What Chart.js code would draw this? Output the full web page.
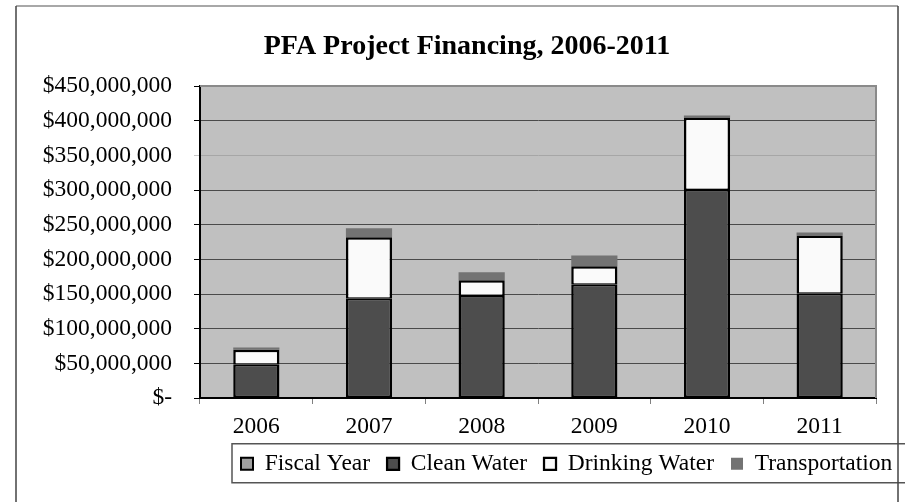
<!DOCTYPE html>
<html>
<head>
<meta charset="utf-8">
<script src="https://cdn.jsdelivr.net/npm/chart.js@4/dist/chart.umd.min.js"></script>
<style>
  html, body { margin: 0; padding: 0; background: #fff; }
  #wrap { width: 905px; height: 502px; position: relative; }
</style>
</head>
<body>
<div id="wrap"><canvas id="pfaChart"></canvas></div>
<script>
// values (dollars)
const years = ['2006', '2007', '2008', '2009', '2010', '2011'];
const fiscalYear = [2006, 2007, 2008, 2009, 2010, 2011];
const cleanWater = [48000000, 143000000, 147000000, 163500000, 300000000, 150500000];
const drinkingWater = [21500000, 89000000, 23000000, 26500000, 104500000, 84000000];
const transportation = [3500000, 13000000, 11500000, 15500000, 3000000, 4300000];
const yTicks = [0, 50000000, 100000000, 150000000, 200000000, 250000000, 300000000, 350000000, 400000000, 450000000];

const serif = "'Liberation Serif', 'Times New Roman', serif";

function money(v) {
    if (v === 0) return '$-';
    return '$' + v.toLocaleString('en-US');
}

// grey plot area + white page
const plotBg = {
    id: 'plotBg',
    beforeDraw(chart) {
        const { ctx, chartArea: a } = chart;
        ctx.save();
        ctx.fillStyle = '#ffffff';
        ctx.fillRect(0, 0, chart.width, chart.height);
        ctx.fillStyle = '#c0c0c0';
        ctx.fillRect(a.left, a.top, a.width, a.height);
        ctx.restore();
    }
};

// title centred a bit right, legend left-aligned under the plot (Excel style)
const placeBoxes = {
    id: 'placeBoxes',
    afterLayout(chart) {
        const t = chart.titleBlock;
        t.left = 58;
        t.right = chart.chartArea.right;
        const lg = chart.legend;
        const w = lg.right - lg.left;
        const h = lg.bottom - lg.top;
        lg.left = 224;
        lg.right = lg.left + w;
        lg.top = 435;
        lg.bottom = lg.top + h;
    }
};

// borders: plot frame, legend box, chart frame
const frames = {
    id: 'frames',
    afterDraw(chart) {
        const { ctx, chartArea: a } = chart;
        const lg = chart.legend;
        ctx.save();
        // plot area top/right edge
        ctx.strokeStyle = '#8a8a8a';
        ctx.lineWidth = 2;
        ctx.beginPath();
        ctx.moveTo(a.left, a.top);
        ctx.lineTo(a.right, a.top);
        ctx.lineTo(a.right, a.bottom);
        ctx.stroke();
        // legend box
        const pad = lg.options.labels.padding;
        const cy = lg.top + pad + 11.75;
        ctx.strokeStyle = '#555';
        ctx.lineWidth = 1.5;
        ctx.strokeRect(lg.left + 8, cy - 20, 800, 39);
        // chart outer frame
        ctx.strokeStyle = '#a8a8a8';
        ctx.lineWidth = 2;
        ctx.beginPath();
        ctx.moveTo(16, 6);
        ctx.lineTo(898, 6);
        ctx.stroke();
        ctx.strokeStyle = '#444';
        ctx.lineWidth = 1.5;
        ctx.beginPath();
        ctx.moveTo(16, 6);
        ctx.lineTo(16, 510);
        ctx.moveTo(898, 6);
        ctx.lineTo(898, 510);
        ctx.stroke();
        ctx.restore();
    }
};

const ctx = document.getElementById('pfaChart').getContext('2d');

new Chart(ctx, {
    type: 'bar',
    data: {
        labels: years,
        datasets: [
            {
                label: 'Fiscal Year',
                data: fiscalYear,
                backgroundColor: '#a0a0a0',
                borderColor: '#000',
                borderWidth: 2,
                borderSkipped: false
            },
            {
                label: 'Clean Water',
                data: cleanWater,
                backgroundColor: '#4d4d4d',
                borderColor: '#000',
                borderWidth: { top: 1.5, left: 2.5, right: 2.5, bottom: 2.5 },
                borderSkipped: false
            },
            {
                label: 'Drinking Water',
                data: drinkingWater,
                backgroundColor: '#fafafa',
                borderColor: '#000',
                borderWidth: { top: 2.5, left: 2.5, right: 2.5, bottom: 1.5 },
                borderSkipped: false
            },
            {
                label: 'Transportation',
                data: transportation,
                backgroundColor: '#737373',
                borderWidth: 0
            }
        ]
    },
    options: {
        responsive: true,
        maintainAspectRatio: false,
        animation: false,
        layout: {
            padding: { left: 0, right: 29, top: 0, bottom: 13.5 }
        },
        datasets: {
            bar: {
                categoryPercentage: 1,
                barPercentage: 0.41
            }
        },
        plugins: {
            tooltip: { enabled: false },
            title: {
                display: true,
                text: 'PFA Project Financing, 2006-2011',
                color: '#000',
                font: { family: serif, size: 28, weight: 'bold', lineHeight: 1.2 },
                padding: { top: 30, bottom: 22.4 }
            },
            legend: {
                position: 'bottom',
                align: 'start',
                labels: {
                    color: '#000',
                    font: { family: serif, size: 23.5 },
                    boxWidth: 12,
                    boxHeight: 12,
                    padding: 17
                }
            }
        },
        scales: {
            x: {
                stacked: true,
                afterFit: s => { s.height = 40; },
                grid: {
                    offset: true,
                    drawOnChartArea: false,
                    tickLength: 6,
                    color: '#808080'
                },
                border: { color: '#000', width: 2 },
                ticks: {
                    color: '#000',
                    padding: 9,
                    font: { family: serif, size: 23.5 }
                }
            },
            y: {
                stacked: true,
                min: 0,
                max: 450000000,
                afterFit: s => { s.width = 200; },
                afterBuildTicks: s => { s.ticks = yTicks.map(v => ({ value: v })); },
                grid: {
                    tickLength: 6,
                    color: c => (c.tick && c.tick.value === 350000000 ? '#a6a6a6' : '#4a4a4a'),
                    tickColor: c => (c.tick && c.tick.value === 350000000 ? '#c8c8c8' : '#000')
                },
                border: { color: '#000', width: 2 },
                ticks: {
                    color: '#000',
                    padding: 22,
                    font: { family: serif, size: 23.5 },
                    callback: v => money(v)
                }
            }
        }
    },
    plugins: [plotBg, placeBoxes, frames]
});
</script>
</body>
</html>
